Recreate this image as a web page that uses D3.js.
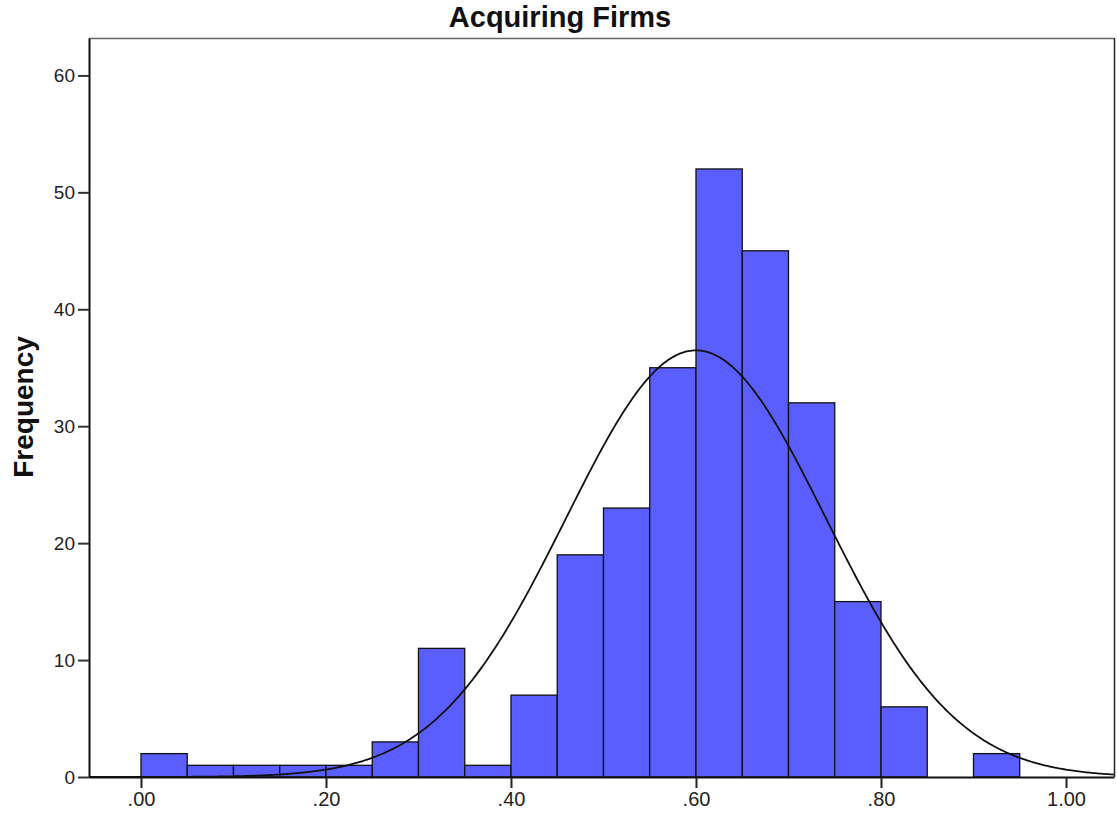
<!DOCTYPE html>
<html><head><meta charset="utf-8">
<script src="https://cdn.jsdelivr.net/npm/d3@7"></script>
<style>body{margin:0;background:#fff;}svg{display:block;font-family:"Liberation Sans",Arial,sans-serif;}</style>
</head><body>
<script>
const binStarts = [0,0.05,0.10,0.15,0.20,0.25,0.30,0.35,0.40,0.45,0.50,0.55,0.60,0.65,0.70,0.75,0.80,0.85,0.90];
const counts    = [2,1,1,1,1,3,11,1,7,19,23,35,52,45,32,15,6,0,2];
const binWidth = 0.05;
const xTicks = [0,0.2,0.4,0.6,0.8,1.0];
const yTicks = [0,10,20,30,40,50,60];
const fitMean = 0.60, fitSD = 0.1405;
const title = "Acquiring Firms", yLabel = "Frequency";

const W = 1117, H = 819;
const m = {left:89, right:3, top:38, bottom:42};
const svg = d3.select("body").append("svg").attr("width",W).attr("height",H);
const x = d3.scaleLinear().domain([-0.0562, 1.0519]).range([m.left, W-m.right]);
const y = d3.scaleLinear().domain([0, 63.2]).range([H-m.bottom, m.top]);

// frame
svg.append("line").attr("x1",m.left).attr("x2",W-m.right).attr("y1",m.top+0.5).attr("y2",m.top+0.5).attr("stroke","#666").attr("stroke-width",1.5);
svg.append("line").attr("x1",W-m.right+0.5).attr("x2",W-m.right+0.5).attr("y1",m.top).attr("y2",H-m.bottom).attr("stroke","#222").attr("stroke-width",1.5);

// bars
svg.append("g").selectAll("rect").data(binStarts.map((s,i)=>({s,c:counts[i]})).filter(d=>d.c>0))
  .join("rect")
  .attr("x",d=>x(d.s)).attr("width",d=>x(d.s+binWidth)-x(d.s))
  .attr("y",d=>y(d.c)).attr("height",d=>y(0)-y(d.c))
  .attr("fill","#5b5eff").attr("stroke","#111").attr("stroke-width",1.3);

// normal curve
const N = d3.sum(counts);
const pts = d3.range(x.domain()[0], x.domain()[1]+1e-9, 0.002);
const dens = v => N*binWidth/(fitSD*Math.sqrt(2*Math.PI))*Math.exp(-0.5*((v-fitMean)/fitSD)**2);
svg.append("path").datum(pts).attr("fill","none").attr("stroke","#111").attr("stroke-width",1.8)
  .attr("d", d3.line().x(d=>x(d)).y(d=>y(dens(d))));

// axes
const xa = svg.append("g").attr("transform",`translate(0,${H-m.bottom})`)
  .call(d3.axisBottom(x).tickValues(xTicks).tickSize(11).tickSizeOuter(0).tickPadding(4)
    .tickFormat(d=> d>=1 ? d3.format(".2f")(d) : d3.format(".2f")(d).replace(/^0/,"")));
xa.attr("font-size",20).attr("font-family","Liberation Sans, Arial, sans-serif");
xa.select(".domain").attr("stroke","#111").attr("stroke-width",2);
xa.selectAll(".tick line").attr("stroke","#222").attr("stroke-width",2);
xa.selectAll("text").attr("font-size",20).attr("fill","#222");

const ya = svg.append("g").attr("transform",`translate(${m.left},0)`)
  .call(d3.axisLeft(y).tickValues(yTicks).tickSize(11).tickSizeOuter(0).tickPadding(3));
ya.attr("font-size",19).attr("font-family","Liberation Sans, Arial, sans-serif");
ya.select(".domain").attr("stroke","#111").attr("stroke-width",2);
ya.selectAll(".tick line").attr("stroke","#333").attr("stroke-width",2);
ya.selectAll("text").attr("font-size",19).attr("fill","#222");

svg.append("text").attr("x",560).attr("y",27).attr("text-anchor","middle")
  .attr("font-size",29).attr("font-weight","bold").attr("fill","#111").text(title);
svg.append("text").attr("transform",`translate(33,407) rotate(-90)`)
  .attr("text-anchor","middle").attr("font-size",28).attr("font-weight","bold").attr("fill","#111").text(yLabel);
</script>
</body></html>
